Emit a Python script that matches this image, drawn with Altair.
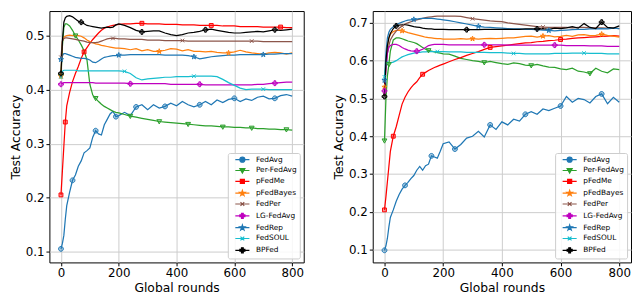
import altair as alt
import pandas as pd

ROUNDS = [0, 5, 10, 15, 20, 30, 40, 50, 60, 70, 80, 90, 100, 110, 120, 130, 140, 150, 160, 170, 180, 190, 200,
          220, 240, 260, 280, 300, 320, 340, 360, 380, 400, 420, 440, 460, 480, 500, 520, 540, 560, 580, 600,
          620, 640, 660, 680, 700, 720, 740, 760, 780, 800]

SERIES = ["FedAvg", "Per-FedAvg", "pFedMe", "pFedBayes", "FedPer", "LG-FedAvg", "FedRep", "FedSOUL", "BPFed"]
COLORS = ["#1f77b4", "#2ca02c", "#ff0000", "#ff7f0e", "#8c564b", "#bf00bf", "#1f77b4", "#17becf", "#000000"]

# ---------------- left panel ----------------
L_FEDAVG = [0.105, 0.115, 0.130, 0.160, 0.185, 0.210, 0.232, 0.242, 0.258, 0.268, 0.283, 0.287, 0.292, 0.312, 0.324, 0.318, 0.316, 0.335, 0.345, 0.355, 0.360, 0.350, 0.352,
            0.358, 0.352, 0.368, 0.372, 0.363, 0.372, 0.366, 0.369, 0.375, 0.370, 0.378, 0.372, 0.368, 0.372, 0.378, 0.372, 0.381, 0.376, 0.382, 0.384, 0.378, 0.383, 0.380, 0.386, 0.388, 0.383, 0.384, 0.389, 0.391, 0.388]
L_PERFEDAVG = [0.425, 0.480, 0.515, 0.522, 0.522, 0.518, 0.510, 0.500, 0.492, 0.483, 0.472, 0.455, 0.410, 0.390, 0.384, 0.378, 0.373, 0.369, 0.366, 0.363, 0.360, 0.358, 0.357,
               0.354, 0.351, 0.349, 0.347, 0.345, 0.343, 0.341, 0.340, 0.339, 0.338, 0.337, 0.336, 0.335, 0.334, 0.333, 0.333, 0.332, 0.331, 0.331, 0.330, 0.330, 0.329, 0.329, 0.328, 0.328, 0.327, 0.327, 0.326, 0.326, 0.325]
L_PFEDME = [0.205, 0.250, 0.295, 0.340, 0.370, 0.395, 0.415, 0.430, 0.443, 0.458, 0.470, 0.478, 0.486, 0.493, 0.499, 0.505, 0.510, 0.514, 0.516, 0.518, 0.519, 0.520, 0.521,
            0.522, 0.522, 0.523, 0.523, 0.522, 0.522, 0.522, 0.521, 0.521, 0.521, 0.520, 0.520, 0.520, 0.519, 0.519, 0.519, 0.519, 0.518, 0.518, 0.518, 0.517, 0.517, 0.517, 0.517, 0.516, 0.516, 0.516, 0.516, 0.515, 0.515]
L_PFEDBAYES = [0.425, 0.490, 0.497, 0.499, 0.500, 0.501, 0.500, 0.500, 0.500, 0.499, 0.496, 0.492, 0.489, 0.487, 0.485, 0.484, 0.482, 0.481, 0.480, 0.479, 0.478, 0.477, 0.477,
               0.476, 0.474, 0.476, 0.472, 0.474, 0.471, 0.471, 0.473, 0.476, 0.475, 0.472, 0.474, 0.471, 0.471, 0.470, 0.471, 0.469, 0.468, 0.468, 0.470, 0.473, 0.470, 0.468, 0.467, 0.466, 0.468, 0.469, 0.468, 0.466, 0.468]
L_FEDPER = [0.460, 0.490, 0.495, 0.496, 0.496, 0.495, 0.494, 0.493, 0.492, 0.491, 0.490, 0.488, 0.487, 0.487, 0.487, 0.488, 0.490, 0.492, 0.494, 0.495, 0.495, 0.495, 0.494,
            0.494, 0.493, 0.493, 0.493, 0.492, 0.492, 0.492, 0.491, 0.491, 0.491, 0.491, 0.490, 0.490, 0.490, 0.490, 0.490, 0.490, 0.490, 0.490, 0.490, 0.490, 0.490, 0.490, 0.490, 0.489, 0.489, 0.489, 0.489, 0.489, 0.489]
L_LGFEDAVG = [0.410, 0.412, 0.413, 0.413, 0.413, 0.413, 0.413, 0.413, 0.413, 0.413, 0.413, 0.413, 0.413, 0.413, 0.412, 0.412, 0.412, 0.412, 0.412, 0.412, 0.412, 0.412, 0.412,
              0.412, 0.411, 0.411, 0.411, 0.411, 0.411, 0.411, 0.411, 0.410, 0.410, 0.410, 0.410, 0.410, 0.410, 0.409, 0.409, 0.409, 0.409, 0.409, 0.409, 0.409, 0.409, 0.409, 0.410, 0.410, 0.411, 0.412, 0.413, 0.414, 0.414]
L_FEDREP = [0.456, 0.463, 0.467, 0.467, 0.466, 0.464, 0.462, 0.460, 0.459, 0.458, 0.458, 0.457, 0.455, 0.451, 0.450, 0.453, 0.457, 0.460, 0.461, 0.462, 0.463, 0.463, 0.464,
            0.464, 0.465, 0.465, 0.465, 0.465, 0.465, 0.465, 0.464, 0.464, 0.464, 0.464, 0.463, 0.461, 0.457, 0.459, 0.461, 0.462, 0.463, 0.464, 0.464, 0.465, 0.465, 0.465, 0.465, 0.465, 0.466, 0.466, 0.467, 0.467, 0.467]
L_FEDSOUL = [0.424, 0.434, 0.436, 0.436, 0.436, 0.436, 0.436, 0.436, 0.435, 0.435, 0.435, 0.435, 0.435, 0.435, 0.435, 0.435, 0.435, 0.435, 0.435, 0.435, 0.435, 0.435, 0.435,
             0.434, 0.430, 0.422, 0.418, 0.420, 0.421, 0.422, 0.423, 0.423, 0.424, 0.424, 0.424, 0.425, 0.425, 0.425, 0.425, 0.424, 0.419, 0.413, 0.408, 0.403, 0.400, 0.401, 0.401, 0.401, 0.400, 0.400, 0.400, 0.400, 0.400]
L_BPFED = [0.430, 0.490, 0.525, 0.533, 0.536, 0.537, 0.535, 0.531, 0.527, 0.525, 0.522, 0.519, 0.518, 0.517, 0.516, 0.515, 0.514, 0.515, 0.516, 0.515, 0.516, 0.520, 0.522,
           0.519, 0.515, 0.510, 0.507, 0.508, 0.509, 0.509, 0.505, 0.502, 0.500, 0.502, 0.505, 0.506, 0.508, 0.511, 0.512, 0.510, 0.508, 0.506, 0.505, 0.505, 0.506, 0.507, 0.508, 0.507, 0.509, 0.511, 0.510, 0.511, 0.512]

L_MARKS = [[0, 40, 120, 190, 260, 360, 480, 600, 740],
           [0, 50, 120, 240, 340, 440, 560, 660, 780],
           [0, 15, 80, 280, 520, 760],
           [0, 340, 580],
           [0, 180, 420, 660],
           [0, 240, 480, 740],
           [0, 200, 460, 700],
           [0, 220, 460, 700],
           [0, 70, 280, 500, 740]]

# ---------------- right panel ----------------
R_FEDAVG = [0.098, 0.110, 0.130, 0.160, 0.185, 0.205, 0.228, 0.246, 0.260, 0.270, 0.278, 0.288, 0.296, 0.310, 0.320, 0.310, 0.322, 0.326, 0.348, 0.345, 0.342, 0.360, 0.380,
            0.385, 0.366, 0.378, 0.395, 0.400, 0.413, 0.398, 0.430, 0.418, 0.438, 0.430, 0.445, 0.440, 0.458, 0.465, 0.458, 0.472, 0.468, 0.474, 0.480, 0.505, 0.490, 0.500, 0.497, 0.488, 0.505, 0.512, 0.486, 0.503, 0.490]
R_PERFEDAVG = [0.388, 0.500, 0.560, 0.590, 0.625, 0.655, 0.660, 0.660, 0.658, 0.655, 0.652, 0.650, 0.648, 0.645, 0.640, 0.635, 0.630, 0.627, 0.625, 0.623, 0.621, 0.620, 0.618,
               0.617, 0.612, 0.606, 0.603, 0.600, 0.598, 0.595, 0.598, 0.595, 0.592, 0.590, 0.594, 0.592, 0.588, 0.587, 0.590, 0.586, 0.583, 0.582, 0.578, 0.576, 0.580, 0.572, 0.570, 0.566, 0.580, 0.572, 0.568, 0.578, 0.576]
R_PFEDME = [0.205, 0.240, 0.280, 0.320, 0.360, 0.400, 0.425, 0.455, 0.485, 0.503, 0.517, 0.528, 0.537, 0.544, 0.555, 0.564, 0.569, 0.574, 0.578, 0.582, 0.585, 0.588, 0.591,
            0.597, 0.603, 0.608, 0.614, 0.619, 0.624, 0.630, 0.635, 0.637, 0.639, 0.641, 0.643, 0.645, 0.647, 0.648, 0.650, 0.651, 0.653, 0.654, 0.656, 0.657, 0.659, 0.660, 0.661, 0.662, 0.663, 0.664, 0.665, 0.666, 0.665]
R_PFEDBAYES = [0.530, 0.600, 0.640, 0.660, 0.670, 0.677, 0.680, 0.680, 0.679, 0.677, 0.674, 0.672, 0.670, 0.668, 0.666, 0.664, 0.662, 0.661, 0.660, 0.659, 0.658, 0.658, 0.657,
               0.657, 0.657, 0.658, 0.657, 0.658, 0.657, 0.658, 0.659, 0.658, 0.659, 0.660, 0.660, 0.662, 0.664, 0.665, 0.662, 0.665, 0.666, 0.663, 0.664, 0.667, 0.664, 0.668, 0.669, 0.666, 0.667, 0.670, 0.667, 0.665, 0.662]
R_FEDPER = [0.510, 0.580, 0.620, 0.640, 0.655, 0.668, 0.678, 0.686, 0.692, 0.697, 0.700, 0.703, 0.706, 0.708, 0.710, 0.712, 0.714, 0.715, 0.716, 0.717, 0.718, 0.718, 0.718,
            0.718, 0.718, 0.717, 0.714, 0.711, 0.709, 0.707, 0.705, 0.704, 0.703, 0.700, 0.698, 0.696, 0.694, 0.692, 0.690, 0.689, 0.688, 0.688, 0.688, 0.688, 0.687, 0.688, 0.688, 0.687, 0.687, 0.687, 0.686, 0.687, 0.685]
R_LGFEDAVG = [0.520, 0.580, 0.620, 0.635, 0.640, 0.643, 0.643, 0.640, 0.635, 0.631, 0.628, 0.626, 0.625, 0.625, 0.627, 0.630, 0.635, 0.640, 0.642, 0.643, 0.643, 0.643, 0.643,
              0.642, 0.642, 0.642, 0.642, 0.642, 0.642, 0.642, 0.642, 0.642, 0.642, 0.641, 0.641, 0.641, 0.641, 0.641, 0.641, 0.641, 0.641, 0.641, 0.641, 0.640, 0.640, 0.640, 0.640, 0.639, 0.639, 0.639, 0.638, 0.638, 0.638]
R_FEDREP = [0.548, 0.620, 0.660, 0.675, 0.683, 0.690, 0.695, 0.699, 0.702, 0.705, 0.707, 0.708, 0.709, 0.710, 0.711, 0.712, 0.712, 0.712, 0.712, 0.711, 0.710, 0.709, 0.708,
            0.706, 0.703, 0.700, 0.697, 0.694, 0.691, 0.689, 0.688, 0.687, 0.686, 0.685, 0.684, 0.684, 0.683, 0.683, 0.682, 0.681, 0.680, 0.679, 0.680, 0.681, 0.682, 0.683, 0.683, 0.684, 0.684, 0.685, 0.684, 0.686, 0.685]
R_FEDSOUL = [0.557, 0.590, 0.597, 0.595, 0.594, 0.596, 0.600, 0.605, 0.610, 0.613, 0.616, 0.618, 0.620, 0.621, 0.622, 0.623, 0.623, 0.624, 0.624, 0.624, 0.624, 0.624, 0.624,
             0.623, 0.623, 0.623, 0.622, 0.622, 0.622, 0.622, 0.621, 0.621, 0.621, 0.620, 0.619, 0.619, 0.618, 0.618, 0.618, 0.618, 0.618, 0.619, 0.619, 0.619, 0.620, 0.620, 0.620, 0.619, 0.619, 0.619, 0.618, 0.618, 0.618]
R_BPFED = [0.505, 0.600, 0.640, 0.660, 0.672, 0.685, 0.692, 0.694, 0.695, 0.695, 0.694, 0.692, 0.690, 0.689, 0.688, 0.686, 0.685, 0.684, 0.684, 0.683, 0.683, 0.683, 0.683,
           0.682, 0.682, 0.682, 0.682, 0.682, 0.682, 0.683, 0.683, 0.683, 0.683, 0.683, 0.683, 0.683, 0.684, 0.684, 0.684, 0.685, 0.683, 0.686, 0.685, 0.687, 0.690, 0.686, 0.698, 0.688, 0.685, 0.702, 0.688, 0.686, 0.692]

R_MARKS = [[0, 70, 160, 240, 360, 480, 600, 740],
           [0, 15, 150, 340, 500, 700],
           [0, 30, 130, 360, 600],
           [0, 60, 300, 540, 740],
           [0, 60, 300, 540],
           [0, 110, 340, 580],
           [0, 100, 320, 560],
           [0, 180, 440, 680],
           [0, 40, 280, 520, 740]]

LEFT = [L_FEDAVG, L_PERFEDAVG, L_PFEDME, L_PFEDBAYES, L_FEDPER, L_LGFEDAVG, L_FEDREP, L_FEDSOUL, L_BPFED]
RIGHT = [R_FEDAVG, R_PERFEDAVG, R_PFEDME, R_PFEDBAYES, R_FEDPER, R_LGFEDAVG, R_FEDREP, R_FEDSOUL, R_BPFED]

# marker glyphs (matplotlib-like)
CIRCLE = "M1,0A1,1,0,1,1,-1,0A1,1,0,1,1,1,0Z"
TRI_DOWN = "M-1,-0.75L1,-0.75L0,1Z"
SQUARE = "M-0.8,-0.8L0.8,-0.8L0.8,0.8L-0.8,0.8Z"
STAR = "M0,-1.1L0.25,-0.34L1.05,-0.34L0.4,0.13L0.65,0.9L0,0.42L-0.65,0.9L-0.4,0.13L-1.05,-0.34L-0.25,-0.34Z"
XMARK = "M-0.75,-0.75L0.75,0.75M-0.75,0.75L0.75,-0.75"
PLUS = "M-0.35,-1L0.35,-1L0.35,-0.35L1,-0.35L1,0.35L0.35,0.35L0.35,1L-0.35,1L-0.35,0.35L-1,0.35L-1,-0.35L-0.35,-0.35Z"
MARKERS = [CIRCLE, TRI_DOWN, SQUARE, STAR, XMARK, PLUS, STAR, XMARK, PLUS]
LEG_LINE = "M-2.8,0L2.8,0"
LEGEND_SHAPES = [LEG_LINE + m for m in MARKERS]


def build(values, marks):
    rows, pts = [], []
    for name, vals, mk in zip(SERIES, values, marks):
        for r, v in zip(ROUNDS, vals):
            rows.append({"series": name, "round": r, "acc": v})
        for r in mk:
            pts.append({"series": name, "round": r, "acc": vals[ROUNDS.index(r)]})
    return pd.DataFrame(rows), pd.DataFrame(pts)


def panel(values, marks, ydom, yticks, w, h):
    lines_df, pts_df = build(values, marks)
    x = alt.X("round:Q", scale=alt.Scale(domain=[-40, 840], nice=False, zero=False),
              axis=alt.Axis(values=[0, 200, 400, 600, 800], title="Global rounds"))
    y = alt.Y("acc:Q", scale=alt.Scale(domain=ydom, nice=False, zero=False),
              axis=alt.Axis(values=yticks, format=".1f", title="Test Accuracy"))
    cs = alt.Scale(domain=SERIES, range=COLORS)
    line = alt.Chart(lines_df).mark_line(strokeWidth=1.25).encode(
        x=x, y=y, color=alt.Color("series:N", scale=cs, legend=None))
    pts = alt.Chart(pts_df).mark_point(filled=True, fillOpacity=0.4, strokeWidth=1, size=24, opacity=1).encode(
        x=x, y=y,
        color=alt.Color("series:N", scale=cs, legend=None),
        stroke=alt.Stroke("series:N", scale=cs, legend=None),
        shape=alt.Shape("series:N", scale=alt.Scale(domain=SERIES, range=MARKERS), legend=None))
    leg = alt.Chart(pts_df).mark_point(filled=True, opacity=0, size=24).encode(
        x=x, y=y,
        color=alt.Color("series:N", scale=cs, legend=alt.Legend(title=None)),
        stroke=alt.Stroke("series:N", scale=cs, legend=alt.Legend(title=None)),
        shape=alt.Shape("series:N", scale=alt.Scale(domain=SERIES, range=LEGEND_SHAPES), legend=alt.Legend(title=None)))
    return alt.layer(line, pts, leg).resolve_scale(
        color="independent", stroke="independent", shape="independent").properties(width=w, height=h)


left = panel(LEFT, L_MARKS, [0.0799, 0.5457], [0.1, 0.2, 0.3, 0.4, 0.5], 258, 255)
right = panel(RIGHT, R_MARKS, [0.066, 0.7313], [0.1, 0.2, 0.3, 0.4, 0.5, 0.6, 0.7], 262, 255)

chart = alt.hconcat(left, right, spacing=27).properties(
    padding={"left": 0, "top": 0, "right": 0, "bottom": 0}
).configure(font="DejaVu Sans").configure_view(
    stroke="#000000", strokeWidth=1
).configure_axis(
    labelFont="DejaVu Sans", titleFont="DejaVu Sans", labelFontSize=12, titleFontSize=12.5,
    titleFontWeight="normal", labelColor="#000000", titleColor="#000000",
    tickColor="#000000", tickSize=3.5, labelPadding=2, titlePadding=3, domain=False,
    gridColor="#cccccc", gridWidth=1
).configure_legend(
    orient="bottom-right", offset=4, labelFont="DejaVu Sans", labelFontSize=7.5, labelColor="#000000",
    symbolSize=26, symbolStrokeWidth=1.2, symbolOpacity=1, rowPadding=1,
    symbolOffset=8, labelOffset=10, padding=3, fillColor="rgba(255,255,255,0.85)",
    strokeColor="#cccccc", cornerRadius=2
)

chart.save("out.html", embed_options={"renderer": "svg", "actions": False})
